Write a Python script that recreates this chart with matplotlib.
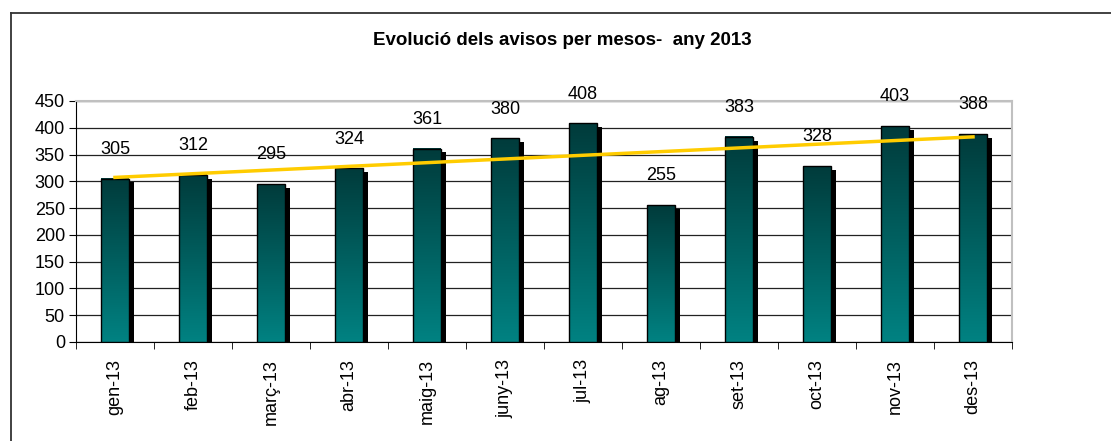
import matplotlib
matplotlib.use("Agg")
import matplotlib.pyplot as plt
from matplotlib.colors import LinearSegmentedColormap
from matplotlib.lines import Line2D
import numpy as np

plt.rcParams['font.family'] = ['Liberation Sans', 'DejaVu Sans']

# data ------------------------------
months = ["gen-13", "feb-13", "març-13", "abr-13", "maig-13", "juny-13",
          "jul-13", "ag-13", "set-13", "oct-13", "nov-13", "des-13"]
avisos = [305, 312, 295, 324, 361, 380, 408, 255, 383, 328, 403, 388]

title = "Evolució dels avisos per mesos-  any 2013"

fig = plt.figure(figsize=(11.11, 4.41), dpi=100)
ax = fig.add_axes([0.0684, 0.2245, 0.8425, 0.5465])

# outer frame (only left and top show in the picture)
fig.add_artist(Line2D([0.0099, 0.0099], [0, 0.971], color="#333333", lw=1.3,
                      transform=fig.transFigure))
fig.add_artist(Line2D([0.0099, 1.0], [0.971, 0.971], color="#333333", lw=1.3,
                      transform=fig.transFigure))

cmap = LinearSegmentedColormap.from_list("teal", ["#008282", "#013b3b"])
grad = np.linspace(0, 1, 256).reshape(-1, 1)

x = np.arange(len(avisos))
w = 0.35
for i, v in enumerate(avisos):
    # black shadow
    ax.bar(i + 0.065, v - 7, width=w, color="black", zorder=2)
    # gradient body
    ax.imshow(grad, extent=[i - w/2, i + w/2, 0, v], origin="lower",
              aspect="auto", cmap=cmap, zorder=3)
    ax.bar(i, v, width=w, facecolor="none", edgecolor="black", lw=1, zorder=4)
    ax.text(i, v + 55, str(v), ha="center", va="center", fontsize=13, zorder=6)

# linear trend line
k, b = np.polyfit(x, avisos, 1)
ax.plot(x, k * x + b, color="#FFCC00", lw=2.5, zorder=5)

ax.set_xlim(-0.5, 11.5)
ax.set_ylim(0, 450)
ax.set_yticks(np.arange(0, 451, 50))
ax.set_xticks(x)
ax.set_xticklabels(months, rotation=90, fontsize=13)
ax.set_xticks(np.arange(-0.5, 12, 1), minor=True)
ax.tick_params(axis="x", which="major", length=0, pad=12)
ax.tick_params(axis="x", which="minor", length=5, direction="out", color="black")
ax.tick_params(axis="y", length=5, direction="out", labelsize=13, pad=3)

ax.grid(axis="y", color="#222222", lw=0.9, zorder=0)
ax.set_axisbelow(True)
ax.spines["left"].set_color("black")
ax.spines["bottom"].set_color("black")
ax.spines["top"].set_color("#c0c0c0")
ax.spines["right"].set_color("#c0c0c0")
ax.spines["top"].set_linewidth(1.5)
ax.spines["right"].set_linewidth(1.5)

fig.text(0.506, 0.909, title, ha="center", va="center", fontsize=13.5,
         fontweight="bold")

fig.savefig("out.png", dpi=100)
